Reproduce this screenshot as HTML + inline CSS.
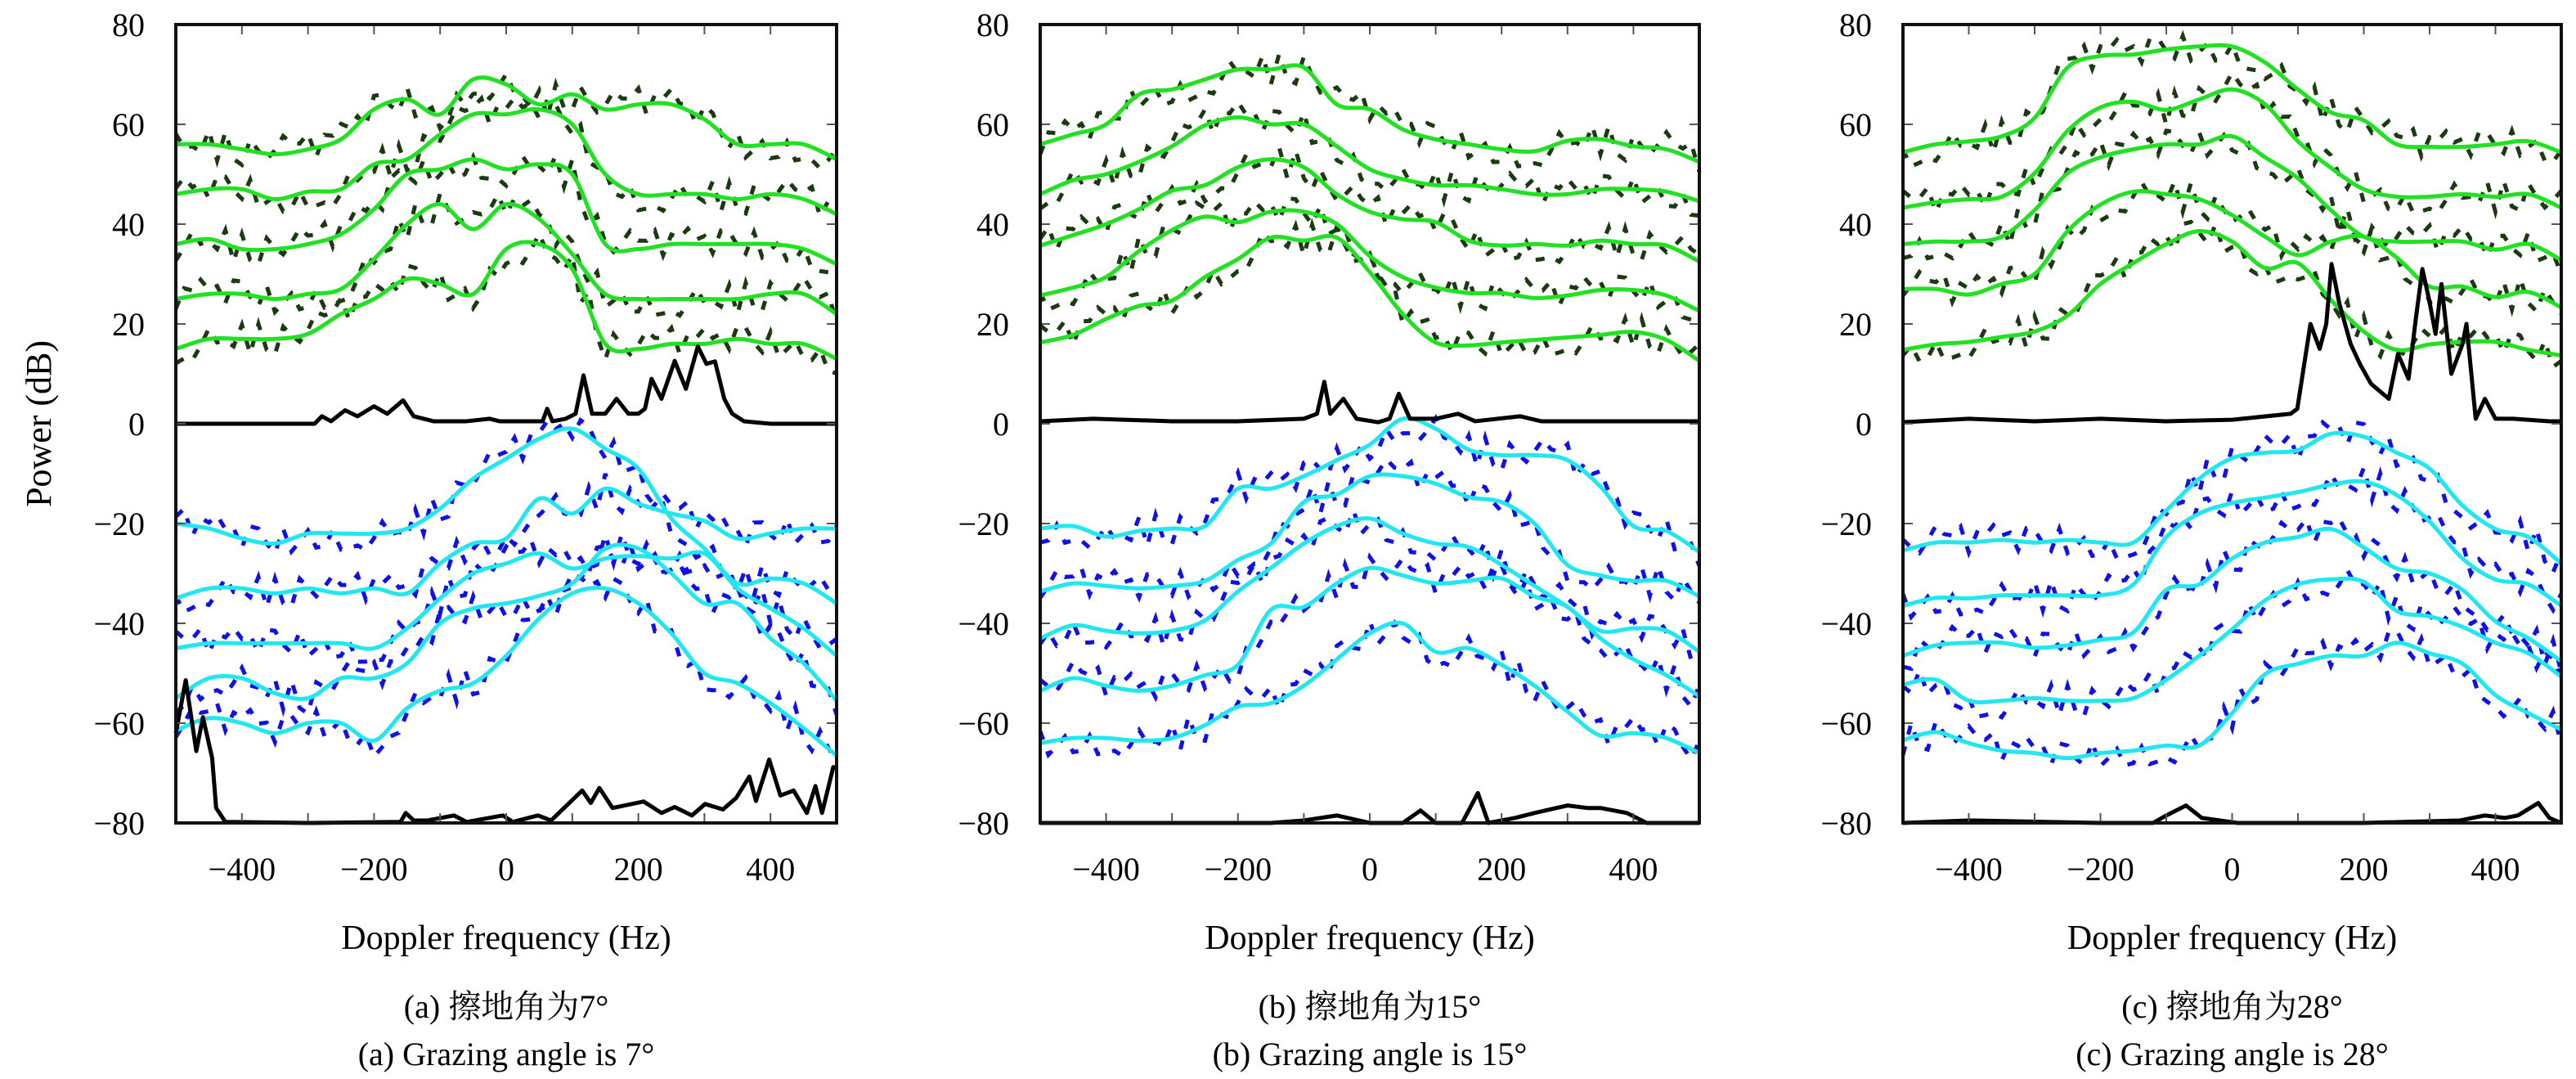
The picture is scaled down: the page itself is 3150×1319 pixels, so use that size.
<!DOCTYPE html>
<html><head><meta charset="utf-8"><style>
html,body{margin:0;padding:0;background:#fff;width:3150px;height:1319px;overflow:hidden}
svg text{font-family:"Liberation Serif","Noto Serif CJK SC","Noto Sans CJK SC",serif;fill:#000}
</style></head><body>
<svg id="chart" width="3150" height="1319" viewBox="0 0 3150 1319" xmlns="http://www.w3.org/2000/svg" font-family="Liberation Serif, Noto Serif CJK SC, serif">
<text x="0" y="0" font-size="44" font-family="Liberation Serif, serif" text-anchor="middle" transform="translate(62,518) rotate(-90)">Power (dB)</text>
</svg>
<script>
const freqs=[-500,-450,-400,-350,-300,-250,-200,-150,-100,-50,0,50,100,150,200,250,300,350,400,450,500];
const xTicks=[-400,-200,0,200,400];
const yTicks=[80,60,40,20,0,-20,-40,-60,-80];
const captionsCN=["(a) 擦地角为7°","(b) 擦地角为15°","(c) 擦地角为28°"];
const captionsEN=["(a) Grazing angle is 7°","(b) Grazing angle is 15°","(c) Grazing angle is 28°"];
const noise=[2.1,-1.8,3.0,-2.6,0.8,-3.2,1.9,-0.7,2.7,-2.2,-1.1,3.4,-2.9,1.2,-0.4,2.5,-3.1,0.6,1.7,-2.4,3.1,-1.5,-0.3,2.2,-2.8,1.4,-3.3,0.9,2.8,-1.9,0.2,-2.5,3.2,-0.9,1.6,-3.0,2.4,-1.3,0.5,-2.0];

const greenA=[
[56,56,55,54,55,57,63,65,62,69,68,64,66,63,64,64,61,56,56,56,53],
[46,47,47,45,46.5,47,52,53,58,62,62,63,60,50,46,46,46,45,46,45,42],
[36,37,35,35,36,38,43,50,51,53,51,52,50,36,35,36,36,36,36,35,32],
[25,26,26,25,26,27,33,40,44,39,44,41,34,26,25,25,25,25,26,26,22],
[15,17,17,17,18,22,25,29,28,26,35,36,31,16,15,16,16,17,16,16,13]];
const cyanA=[
[-20,-21,-23,-24,-22,-22,-22,-21,-17,-11,-7,-3,-1,-5,-9,-19,-25,-32,-31,-32,-36],
[-35,-33,-33,-34,-33,-34,-33,-34,-28,-24,-23,-15,-18,-13,-16,-18,-19.5,-23,-22,-21,-21],
[-45,-44,-44,-44,-44,-44,-45,-41,-35,-30,-28,-26,-29,-27,-26.5,-27,-26,-33,-37,-41,-46.5],
[-55,-51,-51,-54,-55,-51,-51,-48,-40,-37,-36,-34.5,-32,-25,-25,-30,-36,-36,-43,-48,-55.5],
[-61.5,-59,-60,-62,-60,-60,-63.5,-57,-53.5,-52,-46.5,-39,-34,-33,-36,-42,-50,-52,-56,-61,-66.5]];
const blackTopAF=[-500,-290,-279,-265,-244,-225,-200,-180,-156,-140,-110,-60,-25,-10,40,55,62,70,90,105,117,130,150,167,185,200,210,220,235,255,272,290,303,316,330,342,360,400,450,500];
const blackTopAV=[0,0,1.5,0.5,2.7,1.5,3.5,2,4.7,1.5,0.5,0.5,1,0.5,0.5,0.5,3,0.5,1,2,9.7,2,2,5,2,2,3,9,5,12.6,7,15.5,12,12.5,5,2,0.5,0,0,0];
const blackBotAF=[-500,-485,-469,-459,-445,-439,-425,-300,-160,-152,-140,-119,-79,-60,-5,10,48,68,115,128,141,161,208,235,255,281,301,328,348,368,378,398,415,435,455,468,478,495,500];
const blackBotAV=[-62,-51.4,-65.6,-58.8,-67,-77,-79.8,-80,-79.8,-78,-79.5,-79.5,-78.5,-79.8,-78.5,-79.8,-78.5,-79.5,-73.5,-76,-73,-77,-75.7,-78,-76.8,-78.5,-76.2,-77.3,-75,-70.7,-75.6,-67.3,-74.5,-73.5,-78,-72.6,-78,-68.8,-69];

const greenB=[
[56,58,60,66,67,69,71,71,71.4,64,63,59,57,56,55,54.6,56.7,57,55.6,55,52.5],
[46,48.8,50,52.5,55.6,59.8,61.4,60,60,55.6,51,49,47.8,47.8,47,46,46,47,47,46.5,44.6],
[35.7,37.8,40,43,46.7,47.8,51.4,53,51.4,46,42.5,41,40.4,36.7,35.7,36,35.7,36.7,36,35.7,32.5],
[25.7,27.3,29.4,34.6,38.8,41.5,40.4,42.5,42.5,40,33.6,29.4,27.3,26.2,26.2,25.2,25.7,26.8,26.8,25.7,22.6],
[16.3,17.8,21,23.6,24.7,29.4,33,37.3,36.7,37.3,30.4,22,16.3,15.7,16.3,16.8,17.3,17.8,18.4,16.8,12.6]];
const cyanB=[
[-21,-20.5,-22.6,-21.5,-21,-20.5,-13,-13,-10.5,-7.3,-4.2,1,-1,-5.2,-6.3,-6.3,-7.3,-12.6,-20.5,-21.5,-25.7],
[-33.6,-32,-32.5,-33,-32.5,-31.5,-27.3,-24,-15.7,-14.2,-10.5,-10.5,-12,-14.7,-15.7,-20,-28.3,-30.4,-31.5,-31.5,-34.6],
[-43,-40.4,-41.5,-42,-41.5,-39.4,-33.6,-28.9,-24,-20.5,-19,-22,-24,-24.7,-28.3,-32.5,-36.7,-41.5,-41,-41.5,-45.7],
[-53.5,-51,-52.5,-53.5,-52.5,-50.4,-48.3,-37.3,-36.7,-32,-28.9,-30.4,-32,-31.5,-31,-34.6,-36.7,-43,-47.2,-50.4,-54.6],
[-64,-63,-63,-63.5,-63,-60.4,-56.7,-56,-52.5,-47.2,-42,-40,-45.7,-45,-48.3,-52.5,-57.7,-62.5,-62,-63,-66]];
const blackTopBF=[-500,-420,-300,-200,-100,-80,-69,-60,-40,-20,13,30,44,61,100,134,160,228,260,400,500];
const blackTopBV=[0.5,1,0.5,0.5,1,2,8.4,2,5,1,0.3,1,6,1,1,2,0.5,1.5,0.5,0.5,0.5];
const blackBotBF=[-500,-300,-150,-100,-50,0,50,77,100,140,164,180,220,250,300,330,350,390,420,500];
const blackBotBV=[-80,-80,-80,-79.5,-78.5,-80,-80,-77.5,-80,-80,-74,-80,-79,-78,-76.5,-77,-77,-78,-80,-80];

const greenC=[
[54.4,56,56.6,57.6,61.3,71.4,73.7,74,75,75.6,75.6,72.4,67,62.4,60.8,56,55.5,55.5,56,56.6,54.4],
[43.3,44.4,45,45.5,50.2,58.7,63.4,64.5,62.9,65,67,64,56.6,51.3,47,45.5,45.5,46,45.5,46,43.3],
[36,36.5,36.5,37.5,42.8,50.2,53.4,55,56,56,57.6,53.4,49.2,42.8,37.5,36.5,36.5,36.5,34.9,36,32.8],
[27,27,25.9,28,30,38.6,43.9,46.5,46,45,41.8,37.5,33.8,36.5,37.5,33.3,27.5,27.5,25.4,26.4,23.3],
[14.8,15.9,16.4,17.4,18.5,21.7,28,32.2,36,38.6,36.5,31.2,32.2,24.8,18.5,14.8,15.9,16.4,16.4,14.8,13.7]];
const cyanC=[
[-25.4,-23.8,-23.8,-23.3,-23.8,-23.3,-23.8,-23.8,-17.4,-11,-6.9,-5.8,-5.3,-2,-2.6,-5.8,-9,-16.4,-21.1,-22.7,-28],
[-36.5,-34.9,-35,-34.4,-34.4,-34.4,-34.4,-32.2,-22.7,-18,-15.9,-14.8,-13.7,-12.2,-11.6,-14.3,-19.6,-27,-31.2,-32.2,-36.5],
[-46.5,-44.4,-43.9,-43.9,-44.9,-44.4,-43.3,-41.8,-33.3,-32.2,-27,-23.8,-22.7,-21.1,-24.8,-29,-30,-33.3,-39.6,-43,-47.6],
[-52.3,-51.3,-55.5,-55.5,-55,-55.5,-55.5,-55,-51.3,-46.5,-41.2,-35.4,-32.2,-31.2,-31.7,-37.5,-38.6,-40.7,-43.9,-46,-50.7],
[-63.4,-61.8,-64,-65.5,-66,-67,-66,-65.5,-64.5,-64.5,-58,-50.2,-48.1,-46.5,-46.5,-43.9,-46,-48.1,-54.4,-58,-61.3]];
const blackTopCF=[-500,-400,-300,-200,-100,0,89,99,119,133,143,151,163,180,194,211,238,252,268,279,289,299,309,318,333,350,356,370,384,400,427,482,500];
const blackTopCV=[0.3,1,0.5,1,0.5,0.8,2,3,20,15,20,32,24,16,12,8,5,14,9,21,31,25,18,28,10,16,20,1,5,1,1,0.5,0.5];
const blackBotCF=[-500,-400,-200,-120,-100,-70,-46,8,200,346,384,414,434,465,482,500];
const blackBotCV=[-80,-79.5,-80,-80,-78.5,-76.5,-79,-80,-80,-79.5,-78.5,-79,-78.5,-76,-79,-80];

const panels=[
 {L:215,R:1023,green:greenA,cyan:cyanA,btF:blackTopAF,btV:blackTopAV,bbF:blackBotAF,bbV:blackBotAV},
 {L:1272,R:2078,green:greenB,cyan:cyanB,btF:blackTopBF,btV:blackTopBV,bbF:blackBotBF,bbV:blackBotBV},
 {L:2327,R:3132,green:greenC,cyan:cyanC,btF:blackTopCF,btV:blackTopCV,bbF:blackBotCF,bbV:blackBotCV}];
const TOP=30,BOT=1006;
const FONT='Liberation Serif, Noto Serif CJK SC, Noto Sans CJK SC, serif';
const NS="http://www.w3.org/2000/svg";
const svg=document.getElementById('chart');
function mk(tag,attrs,parent){const e=document.createElementNS(NS,tag);for(const k in attrs)e.setAttribute(k,attrs[k]);(parent||svg).appendChild(e);return e;}
function interp(fs,vs,f){for(let i=0;i<fs.length-1;i++){if(f<=fs[i+1]){const t=(f-fs[i])/(fs[i+1]-fs[i]);return vs[i]+t*(vs[i+1]-vs[i]);}}return vs[vs.length-1];}
function smoothPath(pts){let d='M'+pts[0][0].toFixed(1)+','+pts[0][1].toFixed(1);
 for(let i=0;i<pts.length-1;i++){const p0=pts[Math.max(0,i-1)],p1=pts[i],p2=pts[i+1],p3=pts[Math.min(pts.length-1,i+2)];
  const c1=[p1[0]+(p2[0]-p0[0])/6,p1[1]+(p2[1]-p0[1])/6],c2=[p2[0]-(p3[0]-p1[0])/6,p2[1]-(p3[1]-p1[1])/6];
  d+='C'+c1[0].toFixed(1)+','+c1[1].toFixed(1)+' '+c2[0].toFixed(1)+','+c2[1].toFixed(1)+' '+p2[0].toFixed(1)+','+p2[1].toFixed(1);}
 return d;}
panels.forEach((p,pi)=>{
 const X=f=>p.L+(f+500)/1000*(p.R-p.L);
 const Y=v=>TOP+(80-v)/160*(BOT-TOP);
 const g=mk('g',{});
 
 
 const drawNoisy=(series,color,k0,nm)=>{series.forEach((s,k)=>{const pts=[];
   for(let i=0;i<=80;i++){const f=-500+i*12.5;const n=noise[(i*7+(k+k0)*13)%noise.length];pts.push(X(f)+','+Y(interp(freqs,s,f)+n).toFixed(1));}
   const e=mk('polyline',{points:pts.join(' '),fill:'none',stroke:color,'stroke-width':5,'stroke-dasharray':'11 15'},g);
   
   });};
 drawNoisy(p.green,'#1c3a12',pi*3,'upper');
 drawNoisy(p.cyan,'#1010e8',pi*3+5,'lower');
 const drawSmooth=(series,color,nm)=>{series.forEach((s,k)=>{const pts=freqs.map((f,i)=>[X(f),Y(s[i])]);
   const e=mk('path',{d:smoothPath(pts),fill:'none',stroke:color,'stroke-width':5,'stroke-linejoin':'round'},g);
   
   });};
 drawSmooth(p.green,'#22e022','upper');
 drawSmooth(p.cyan,'#22e6f0','lower');
 const bt=mk('polyline',{points:p.btF.map((f,i)=>X(f)+','+Y(p.btV[i])).join(' '),fill:'none',stroke:'#000','stroke-width':5,'stroke-linejoin':'round'},g);
 
 
 const bb=mk('polyline',{points:p.bbF.map((f,i)=>X(f)+','+Y(p.bbV[i])).join(' '),fill:'none',stroke:'#000','stroke-width':5,'stroke-linejoin':'round'},g);
 
 
 for(let f=-400;f<=400;f+=100){mk('line',{x1:X(f),x2:X(f),y1:TOP,y2:TOP+12,stroke:'#555','stroke-width':2},g);mk('line',{x1:X(f),x2:X(f),y1:BOT,y2:BOT-12,stroke:'#555','stroke-width':2},g);}
 yTicks.forEach(v=>{mk('line',{x1:p.L,x2:p.L+12,y1:Y(v),y2:Y(v),stroke:'#555','stroke-width':2},g);mk('line',{x1:p.R,x2:p.R-12,y1:Y(v),y2:Y(v),stroke:'#555','stroke-width':2},g);
   const t=mk('text',{x:p.L-38,y:Y(v)+14,'font-size':40,'font-family':FONT,'text-anchor':'end'},g);t.textContent=(v<0?'−':'')+Math.abs(v);
   
   });
 xTicks.forEach(f=>{const t=mk('text',{x:X(f),y:1076,'font-size':40,'font-family':FONT,'text-anchor':'middle'},g);t.textContent=(f<0?'−':'')+Math.abs(f);
   
   });
 const fr=mk('rect',{x:p.L,y:TOP,width:p.R-p.L,height:BOT-TOP,fill:'none',stroke:'#111','stroke-width':4},g);
 
 
 const cx=(p.L+p.R)/2;
 const xl=mk('text',{x:cx,y:1160,'font-size':42,'font-family':FONT,'text-anchor':'middle'},g);xl.textContent='Doppler frequency (Hz)';
 
 
 const c1=mk('text',{x:cx,y:1244,'font-size':40,'font-family':FONT,'text-anchor':'middle'},g);c1.textContent=captionsCN[pi];
 
 
 const c2=mk('text',{x:cx,y:1302,'font-size':40,'font-family':FONT,'text-anchor':'middle'},g);c2.textContent=captionsEN[pi];
 
 
});
</script>
</body></html>
